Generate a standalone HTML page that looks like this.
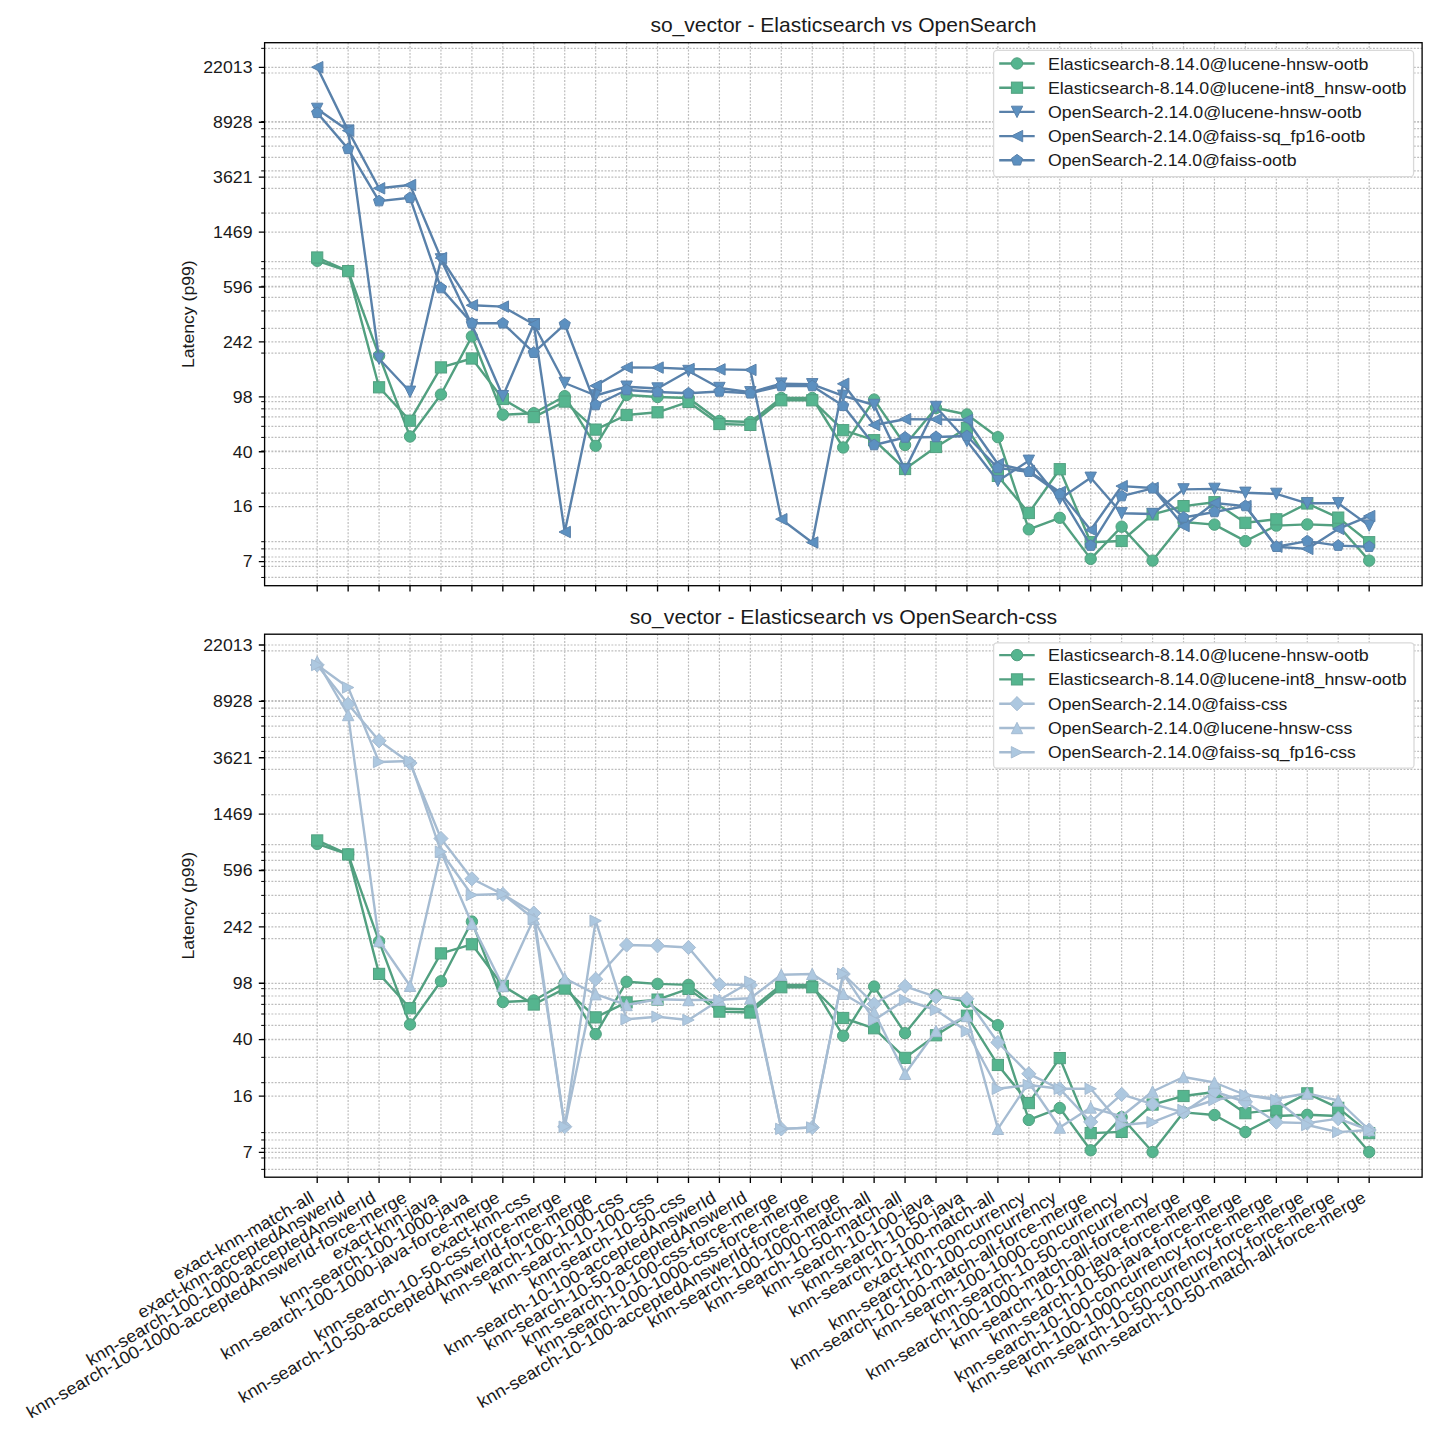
<!DOCTYPE html>
<html><head><meta charset="utf-8"><style>
html,body{margin:0;padding:0;background:#fff;overflow:hidden;width:1440px;height:1440px;}
svg{display:block;}
.t{font-family:"Liberation Sans",sans-serif;font-size:17.4px;fill:#1a1a1a;}
.ti{font-family:"Liberation Sans",sans-serif;font-size:20.8px;fill:#1a1a1a;}
</style></head><body>
<svg width="1440" height="1440" viewBox="0 0 1440 1440">
<rect width="1440" height="1440" fill="#fff"/>
<defs><clipPath id="clipT"><rect x="264.6" y="42.7" width="1157.5" height="543"/></clipPath><clipPath id="clipB"><rect x="264.6" y="634.2" width="1157.5" height="543"/></clipPath></defs>
<path d="M317.2 42.7V585.7M348.14 42.7V585.7M379.08 42.7V585.7M410.02 42.7V585.7M440.96 42.7V585.7M471.9 42.7V585.7M502.84 42.7V585.7M533.78 42.7V585.7M564.72 42.7V585.7M595.66 42.7V585.7M626.6 42.7V585.7M657.54 42.7V585.7M688.48 42.7V585.7M719.42 42.7V585.7M750.36 42.7V585.7M781.3 42.7V585.7M812.24 42.7V585.7M843.18 42.7V585.7M874.12 42.7V585.7M905.06 42.7V585.7M936 42.7V585.7M966.94 42.7V585.7M997.88 42.7V585.7M1028.82 42.7V585.7M1059.76 42.7V585.7M1090.7 42.7V585.7M1121.64 42.7V585.7M1152.58 42.7V585.7M1183.52 42.7V585.7M1214.46 42.7V585.7M1245.4 42.7V585.7M1276.34 42.7V585.7M1307.28 42.7V585.7M1338.22 42.7V585.7M1369.16 42.7V585.7" stroke="#bdbdbd" stroke-width="1.2" stroke-dasharray="1.9 1.5" fill="none"/>
<path d="M264.6 67.3H1422.1M264.6 122.22H1422.1M264.6 177.14H1422.1M264.6 232.06H1422.1M264.6 286.98H1422.1M264.6 341.9H1422.1M264.6 396.82H1422.1M264.6 451.74H1422.1M264.6 506.66H1422.1M264.6 561.58H1422.1M264.6 577.46H1422.1M264.6 566.37H1422.1M264.6 556.99H1422.1M264.6 548.87H1422.1M264.6 541.71H1422.1M264.6 493.14H1422.1M264.6 468.48H1422.1M264.6 450.98H1422.1M264.6 437.41H1422.1M264.6 426.32H1422.1M264.6 416.94H1422.1M264.6 408.82H1422.1M264.6 401.66H1422.1M264.6 353.09H1422.1M264.6 328.43H1422.1M264.6 310.93H1422.1M264.6 297.36H1422.1M264.6 286.27H1422.1M264.6 276.89H1422.1M264.6 268.77H1422.1M264.6 261.61H1422.1M264.6 213.04H1422.1M264.6 188.38H1422.1M264.6 170.88H1422.1M264.6 157.31H1422.1M264.6 146.22H1422.1M264.6 136.84H1422.1M264.6 128.72H1422.1M264.6 121.56H1422.1M264.6 72.99H1422.1M264.6 48.33H1422.1" stroke="#bdbdbd" stroke-width="1.2" stroke-dasharray="1.9 1.5" fill="none"/>
<path d="M258.8 67.3H264.6M258.8 122.22H264.6M258.8 177.14H264.6M258.8 232.06H264.6M258.8 286.98H264.6M258.8 341.9H264.6M258.8 396.82H264.6M258.8 451.74H264.6M258.8 506.66H264.6M258.8 561.58H264.6M317.2 585.7V591.5M348.14 585.7V591.5M379.08 585.7V591.5M410.02 585.7V591.5M440.96 585.7V591.5M471.9 585.7V591.5M502.84 585.7V591.5M533.78 585.7V591.5M564.72 585.7V591.5M595.66 585.7V591.5M626.6 585.7V591.5M657.54 585.7V591.5M688.48 585.7V591.5M719.42 585.7V591.5M750.36 585.7V591.5M781.3 585.7V591.5M812.24 585.7V591.5M843.18 585.7V591.5M874.12 585.7V591.5M905.06 585.7V591.5M936 585.7V591.5M966.94 585.7V591.5M997.88 585.7V591.5M1028.82 585.7V591.5M1059.76 585.7V591.5M1090.7 585.7V591.5M1121.64 585.7V591.5M1152.58 585.7V591.5M1183.52 585.7V591.5M1214.46 585.7V591.5M1245.4 585.7V591.5M1276.34 585.7V591.5M1307.28 585.7V591.5M1338.22 585.7V591.5M1369.16 585.7V591.5" stroke="#000" stroke-width="1.33" fill="none"/>
<path d="M261.2 577.46H264.6M261.2 566.37H264.6M261.2 556.99H264.6M261.2 548.87H264.6M261.2 541.71H264.6M261.2 493.14H264.6M261.2 468.48H264.6M261.2 450.98H264.6M261.2 437.41H264.6M261.2 426.32H264.6M261.2 416.94H264.6M261.2 408.82H264.6M261.2 401.66H264.6M261.2 353.09H264.6M261.2 328.43H264.6M261.2 310.93H264.6M261.2 297.36H264.6M261.2 286.27H264.6M261.2 276.89H264.6M261.2 268.77H264.6M261.2 261.61H264.6M261.2 213.04H264.6M261.2 188.38H264.6M261.2 170.88H264.6M261.2 157.31H264.6M261.2 146.22H264.6M261.2 136.84H264.6M261.2 128.72H264.6M261.2 121.56H264.6M261.2 72.99H264.6M261.2 48.33H264.6" stroke="#000" stroke-width="1" fill="none"/>
<text x="252.5" y="73.1" text-anchor="end" class="t" textLength="49.21" lengthAdjust="spacingAndGlyphs">22013</text>
<text x="252.5" y="128.02" text-anchor="end" class="t" textLength="39.37" lengthAdjust="spacingAndGlyphs">8928</text>
<text x="252.5" y="182.94" text-anchor="end" class="t" textLength="39.37" lengthAdjust="spacingAndGlyphs">3621</text>
<text x="252.5" y="237.86" text-anchor="end" class="t" textLength="39.37" lengthAdjust="spacingAndGlyphs">1469</text>
<text x="252.5" y="292.78" text-anchor="end" class="t" textLength="29.53" lengthAdjust="spacingAndGlyphs">596</text>
<text x="252.5" y="347.7" text-anchor="end" class="t" textLength="29.53" lengthAdjust="spacingAndGlyphs">242</text>
<text x="252.5" y="402.62" text-anchor="end" class="t" textLength="19.69" lengthAdjust="spacingAndGlyphs">98</text>
<text x="252.5" y="457.54" text-anchor="end" class="t" textLength="19.69" lengthAdjust="spacingAndGlyphs">40</text>
<text x="252.5" y="512.46" text-anchor="end" class="t" textLength="19.69" lengthAdjust="spacingAndGlyphs">16</text>
<text x="252.5" y="567.38" text-anchor="end" class="t" textLength="9.84" lengthAdjust="spacingAndGlyphs">7</text>
<text transform="translate(193.6 314.2) rotate(-90)" text-anchor="middle" class="t" textLength="107.5" lengthAdjust="spacingAndGlyphs">Latency (p99)</text>
<text x="843.4" y="32.1" text-anchor="middle" class="ti" textLength="386" lengthAdjust="spacingAndGlyphs">so_vector - Elasticsearch vs OpenSearch</text>
<g clip-path="url(#clipT)">
<polyline points="317.2,260.8 348.14,271 379.08,355.7 410.02,436.5 440.96,394.5 471.9,336.4 502.84,414.7 533.78,413.2 564.72,396.2 595.66,445.8 626.6,395 657.54,397 688.48,398 719.42,421 750.36,422 781.3,398 812.24,398 843.18,447.5 874.12,399.6 905.06,445 936,408 966.94,414.5 997.88,437.2 1028.82,529.4 1059.76,517.8 1090.7,558.9 1121.64,526.7 1152.58,560.6 1183.52,522 1214.46,524.6 1245.4,541.1 1276.34,525.6 1307.28,524.4 1338.22,525.5 1369.16,560.6" fill="none" stroke="#52a080" stroke-width="2.4" stroke-linejoin="round" stroke-linecap="butt"/>
<circle cx="317.2" cy="260.8" r="5.7" fill="#55b58f" stroke="#52a080" stroke-width="1"/>
<circle cx="348.14" cy="271" r="5.7" fill="#55b58f" stroke="#52a080" stroke-width="1"/>
<circle cx="379.08" cy="355.7" r="5.7" fill="#55b58f" stroke="#52a080" stroke-width="1"/>
<circle cx="410.02" cy="436.5" r="5.7" fill="#55b58f" stroke="#52a080" stroke-width="1"/>
<circle cx="440.96" cy="394.5" r="5.7" fill="#55b58f" stroke="#52a080" stroke-width="1"/>
<circle cx="471.9" cy="336.4" r="5.7" fill="#55b58f" stroke="#52a080" stroke-width="1"/>
<circle cx="502.84" cy="414.7" r="5.7" fill="#55b58f" stroke="#52a080" stroke-width="1"/>
<circle cx="533.78" cy="413.2" r="5.7" fill="#55b58f" stroke="#52a080" stroke-width="1"/>
<circle cx="564.72" cy="396.2" r="5.7" fill="#55b58f" stroke="#52a080" stroke-width="1"/>
<circle cx="595.66" cy="445.8" r="5.7" fill="#55b58f" stroke="#52a080" stroke-width="1"/>
<circle cx="626.6" cy="395" r="5.7" fill="#55b58f" stroke="#52a080" stroke-width="1"/>
<circle cx="657.54" cy="397" r="5.7" fill="#55b58f" stroke="#52a080" stroke-width="1"/>
<circle cx="688.48" cy="398" r="5.7" fill="#55b58f" stroke="#52a080" stroke-width="1"/>
<circle cx="719.42" cy="421" r="5.7" fill="#55b58f" stroke="#52a080" stroke-width="1"/>
<circle cx="750.36" cy="422" r="5.7" fill="#55b58f" stroke="#52a080" stroke-width="1"/>
<circle cx="781.3" cy="398" r="5.7" fill="#55b58f" stroke="#52a080" stroke-width="1"/>
<circle cx="812.24" cy="398" r="5.7" fill="#55b58f" stroke="#52a080" stroke-width="1"/>
<circle cx="843.18" cy="447.5" r="5.7" fill="#55b58f" stroke="#52a080" stroke-width="1"/>
<circle cx="874.12" cy="399.6" r="5.7" fill="#55b58f" stroke="#52a080" stroke-width="1"/>
<circle cx="905.06" cy="445" r="5.7" fill="#55b58f" stroke="#52a080" stroke-width="1"/>
<circle cx="936" cy="408" r="5.7" fill="#55b58f" stroke="#52a080" stroke-width="1"/>
<circle cx="966.94" cy="414.5" r="5.7" fill="#55b58f" stroke="#52a080" stroke-width="1"/>
<circle cx="997.88" cy="437.2" r="5.7" fill="#55b58f" stroke="#52a080" stroke-width="1"/>
<circle cx="1028.82" cy="529.4" r="5.7" fill="#55b58f" stroke="#52a080" stroke-width="1"/>
<circle cx="1059.76" cy="517.8" r="5.7" fill="#55b58f" stroke="#52a080" stroke-width="1"/>
<circle cx="1090.7" cy="558.9" r="5.7" fill="#55b58f" stroke="#52a080" stroke-width="1"/>
<circle cx="1121.64" cy="526.7" r="5.7" fill="#55b58f" stroke="#52a080" stroke-width="1"/>
<circle cx="1152.58" cy="560.6" r="5.7" fill="#55b58f" stroke="#52a080" stroke-width="1"/>
<circle cx="1183.52" cy="522" r="5.7" fill="#55b58f" stroke="#52a080" stroke-width="1"/>
<circle cx="1214.46" cy="524.6" r="5.7" fill="#55b58f" stroke="#52a080" stroke-width="1"/>
<circle cx="1245.4" cy="541.1" r="5.7" fill="#55b58f" stroke="#52a080" stroke-width="1"/>
<circle cx="1276.34" cy="525.6" r="5.7" fill="#55b58f" stroke="#52a080" stroke-width="1"/>
<circle cx="1307.28" cy="524.4" r="5.7" fill="#55b58f" stroke="#52a080" stroke-width="1"/>
<circle cx="1338.22" cy="525.5" r="5.7" fill="#55b58f" stroke="#52a080" stroke-width="1"/>
<circle cx="1369.16" cy="560.6" r="5.7" fill="#55b58f" stroke="#52a080" stroke-width="1"/>
<polyline points="317.2,257.5 348.14,271.1 379.08,387.3 410.02,420.7 440.96,367.4 471.9,358.5 502.84,399 533.78,417.1 564.72,401.6 595.66,429.6 626.6,415 657.54,412.3 688.48,401.9 719.42,424 750.36,424.9 781.3,400.3 812.24,400.3 843.18,430.2 874.12,440.2 905.06,469 936,447 966.94,428 997.88,475.9 1028.82,513 1059.76,469.2 1090.7,542.2 1121.64,541 1152.58,514.4 1183.52,506.1 1214.46,502.2 1245.4,522.8 1276.34,519.3 1307.28,503.5 1338.22,517.6 1369.16,542.2" fill="none" stroke="#52a080" stroke-width="2.4" stroke-linejoin="round" stroke-linecap="butt"/>
<rect x="311.6" y="251.9" width="11.2" height="11.2" fill="#55b58f" stroke="#52a080" stroke-width="1"/>
<rect x="342.54" y="265.5" width="11.2" height="11.2" fill="#55b58f" stroke="#52a080" stroke-width="1"/>
<rect x="373.48" y="381.7" width="11.2" height="11.2" fill="#55b58f" stroke="#52a080" stroke-width="1"/>
<rect x="404.42" y="415.1" width="11.2" height="11.2" fill="#55b58f" stroke="#52a080" stroke-width="1"/>
<rect x="435.36" y="361.8" width="11.2" height="11.2" fill="#55b58f" stroke="#52a080" stroke-width="1"/>
<rect x="466.3" y="352.9" width="11.2" height="11.2" fill="#55b58f" stroke="#52a080" stroke-width="1"/>
<rect x="497.24" y="393.4" width="11.2" height="11.2" fill="#55b58f" stroke="#52a080" stroke-width="1"/>
<rect x="528.18" y="411.5" width="11.2" height="11.2" fill="#55b58f" stroke="#52a080" stroke-width="1"/>
<rect x="559.12" y="396" width="11.2" height="11.2" fill="#55b58f" stroke="#52a080" stroke-width="1"/>
<rect x="590.06" y="424" width="11.2" height="11.2" fill="#55b58f" stroke="#52a080" stroke-width="1"/>
<rect x="621" y="409.4" width="11.2" height="11.2" fill="#55b58f" stroke="#52a080" stroke-width="1"/>
<rect x="651.94" y="406.7" width="11.2" height="11.2" fill="#55b58f" stroke="#52a080" stroke-width="1"/>
<rect x="682.88" y="396.3" width="11.2" height="11.2" fill="#55b58f" stroke="#52a080" stroke-width="1"/>
<rect x="713.82" y="418.4" width="11.2" height="11.2" fill="#55b58f" stroke="#52a080" stroke-width="1"/>
<rect x="744.76" y="419.3" width="11.2" height="11.2" fill="#55b58f" stroke="#52a080" stroke-width="1"/>
<rect x="775.7" y="394.7" width="11.2" height="11.2" fill="#55b58f" stroke="#52a080" stroke-width="1"/>
<rect x="806.64" y="394.7" width="11.2" height="11.2" fill="#55b58f" stroke="#52a080" stroke-width="1"/>
<rect x="837.58" y="424.6" width="11.2" height="11.2" fill="#55b58f" stroke="#52a080" stroke-width="1"/>
<rect x="868.52" y="434.6" width="11.2" height="11.2" fill="#55b58f" stroke="#52a080" stroke-width="1"/>
<rect x="899.46" y="463.4" width="11.2" height="11.2" fill="#55b58f" stroke="#52a080" stroke-width="1"/>
<rect x="930.4" y="441.4" width="11.2" height="11.2" fill="#55b58f" stroke="#52a080" stroke-width="1"/>
<rect x="961.34" y="422.4" width="11.2" height="11.2" fill="#55b58f" stroke="#52a080" stroke-width="1"/>
<rect x="992.28" y="470.3" width="11.2" height="11.2" fill="#55b58f" stroke="#52a080" stroke-width="1"/>
<rect x="1023.22" y="507.4" width="11.2" height="11.2" fill="#55b58f" stroke="#52a080" stroke-width="1"/>
<rect x="1054.16" y="463.6" width="11.2" height="11.2" fill="#55b58f" stroke="#52a080" stroke-width="1"/>
<rect x="1085.1" y="536.6" width="11.2" height="11.2" fill="#55b58f" stroke="#52a080" stroke-width="1"/>
<rect x="1116.04" y="535.4" width="11.2" height="11.2" fill="#55b58f" stroke="#52a080" stroke-width="1"/>
<rect x="1146.98" y="508.8" width="11.2" height="11.2" fill="#55b58f" stroke="#52a080" stroke-width="1"/>
<rect x="1177.92" y="500.5" width="11.2" height="11.2" fill="#55b58f" stroke="#52a080" stroke-width="1"/>
<rect x="1208.86" y="496.6" width="11.2" height="11.2" fill="#55b58f" stroke="#52a080" stroke-width="1"/>
<rect x="1239.8" y="517.2" width="11.2" height="11.2" fill="#55b58f" stroke="#52a080" stroke-width="1"/>
<rect x="1270.74" y="513.7" width="11.2" height="11.2" fill="#55b58f" stroke="#52a080" stroke-width="1"/>
<rect x="1301.68" y="497.9" width="11.2" height="11.2" fill="#55b58f" stroke="#52a080" stroke-width="1"/>
<rect x="1332.62" y="512" width="11.2" height="11.2" fill="#55b58f" stroke="#52a080" stroke-width="1"/>
<rect x="1363.56" y="536.6" width="11.2" height="11.2" fill="#55b58f" stroke="#52a080" stroke-width="1"/>
<polyline points="317.2,108.9 348.14,130.6 379.08,358.8 410.02,391.8 440.96,259.4 471.9,325 502.84,396.2 533.78,324.2 564.72,383 595.66,395.5 626.6,386.7 657.54,388.5 688.48,371 719.42,388 750.36,392.3 781.3,383.6 812.24,384.3 843.18,395.8 874.12,405 905.06,469.6 936,407 966.94,441 997.88,481 1028.82,460.8 1059.76,499 1090.7,477.8 1121.64,513.3 1152.58,514 1183.52,489.4 1214.46,488.9 1245.4,492.8 1276.34,493.9 1307.28,503.3 1338.22,503.3 1369.16,525.6" fill="none" stroke="#5981aa" stroke-width="2.4" stroke-linejoin="round" stroke-linecap="butt"/>
<polygon points="311.5,103.2 322.9,103.2 317.2,114.6" fill="#5c90c0" stroke="#5981aa" stroke-width="1"/>
<polygon points="342.44,124.9 353.84,124.9 348.14,136.3" fill="#5c90c0" stroke="#5981aa" stroke-width="1"/>
<polygon points="373.38,353.1 384.78,353.1 379.08,364.5" fill="#5c90c0" stroke="#5981aa" stroke-width="1"/>
<polygon points="404.32,386.1 415.72,386.1 410.02,397.5" fill="#5c90c0" stroke="#5981aa" stroke-width="1"/>
<polygon points="435.26,253.7 446.66,253.7 440.96,265.1" fill="#5c90c0" stroke="#5981aa" stroke-width="1"/>
<polygon points="466.2,319.3 477.6,319.3 471.9,330.7" fill="#5c90c0" stroke="#5981aa" stroke-width="1"/>
<polygon points="497.14,390.5 508.54,390.5 502.84,401.9" fill="#5c90c0" stroke="#5981aa" stroke-width="1"/>
<polygon points="528.08,318.5 539.48,318.5 533.78,329.9" fill="#5c90c0" stroke="#5981aa" stroke-width="1"/>
<polygon points="559.02,377.3 570.42,377.3 564.72,388.7" fill="#5c90c0" stroke="#5981aa" stroke-width="1"/>
<polygon points="589.96,389.8 601.36,389.8 595.66,401.2" fill="#5c90c0" stroke="#5981aa" stroke-width="1"/>
<polygon points="620.9,381 632.3,381 626.6,392.4" fill="#5c90c0" stroke="#5981aa" stroke-width="1"/>
<polygon points="651.84,382.8 663.24,382.8 657.54,394.2" fill="#5c90c0" stroke="#5981aa" stroke-width="1"/>
<polygon points="682.78,365.3 694.18,365.3 688.48,376.7" fill="#5c90c0" stroke="#5981aa" stroke-width="1"/>
<polygon points="713.72,382.3 725.12,382.3 719.42,393.7" fill="#5c90c0" stroke="#5981aa" stroke-width="1"/>
<polygon points="744.66,386.6 756.06,386.6 750.36,398" fill="#5c90c0" stroke="#5981aa" stroke-width="1"/>
<polygon points="775.6,377.9 787,377.9 781.3,389.3" fill="#5c90c0" stroke="#5981aa" stroke-width="1"/>
<polygon points="806.54,378.6 817.94,378.6 812.24,390" fill="#5c90c0" stroke="#5981aa" stroke-width="1"/>
<polygon points="837.48,390.1 848.88,390.1 843.18,401.5" fill="#5c90c0" stroke="#5981aa" stroke-width="1"/>
<polygon points="868.42,399.3 879.82,399.3 874.12,410.7" fill="#5c90c0" stroke="#5981aa" stroke-width="1"/>
<polygon points="899.36,463.9 910.76,463.9 905.06,475.3" fill="#5c90c0" stroke="#5981aa" stroke-width="1"/>
<polygon points="930.3,401.3 941.7,401.3 936,412.7" fill="#5c90c0" stroke="#5981aa" stroke-width="1"/>
<polygon points="961.24,435.3 972.64,435.3 966.94,446.7" fill="#5c90c0" stroke="#5981aa" stroke-width="1"/>
<polygon points="992.18,475.3 1003.58,475.3 997.88,486.7" fill="#5c90c0" stroke="#5981aa" stroke-width="1"/>
<polygon points="1023.12,455.1 1034.52,455.1 1028.82,466.5" fill="#5c90c0" stroke="#5981aa" stroke-width="1"/>
<polygon points="1054.06,493.3 1065.46,493.3 1059.76,504.7" fill="#5c90c0" stroke="#5981aa" stroke-width="1"/>
<polygon points="1085,472.1 1096.4,472.1 1090.7,483.5" fill="#5c90c0" stroke="#5981aa" stroke-width="1"/>
<polygon points="1115.94,507.6 1127.34,507.6 1121.64,519" fill="#5c90c0" stroke="#5981aa" stroke-width="1"/>
<polygon points="1146.88,508.3 1158.28,508.3 1152.58,519.7" fill="#5c90c0" stroke="#5981aa" stroke-width="1"/>
<polygon points="1177.82,483.7 1189.22,483.7 1183.52,495.1" fill="#5c90c0" stroke="#5981aa" stroke-width="1"/>
<polygon points="1208.76,483.2 1220.16,483.2 1214.46,494.6" fill="#5c90c0" stroke="#5981aa" stroke-width="1"/>
<polygon points="1239.7,487.1 1251.1,487.1 1245.4,498.5" fill="#5c90c0" stroke="#5981aa" stroke-width="1"/>
<polygon points="1270.64,488.2 1282.04,488.2 1276.34,499.6" fill="#5c90c0" stroke="#5981aa" stroke-width="1"/>
<polygon points="1301.58,497.6 1312.98,497.6 1307.28,509" fill="#5c90c0" stroke="#5981aa" stroke-width="1"/>
<polygon points="1332.52,497.6 1343.92,497.6 1338.22,509" fill="#5c90c0" stroke="#5981aa" stroke-width="1"/>
<polygon points="1363.46,519.9 1374.86,519.9 1369.16,531.3" fill="#5c90c0" stroke="#5981aa" stroke-width="1"/>
<polyline points="317.2,67.2 348.14,130.6 379.08,188.3 410.02,185 440.96,258 471.9,305.3 502.84,306.6 533.78,324.2 564.72,532 595.66,385.8 626.6,367.5 657.54,367.6 688.48,369 719.42,369.4 750.36,369.9 781.3,519.2 812.24,542.5 843.18,383.8 874.12,425 905.06,419.2 936,419.4 966.94,420 997.88,464 1028.82,471 1059.76,492 1090.7,530 1121.64,486.1 1152.58,488 1183.52,526 1214.46,503 1245.4,506.1 1276.34,546.7 1307.28,548.9 1338.22,528.9 1369.16,516.1" fill="none" stroke="#5981aa" stroke-width="2.4" stroke-linejoin="round" stroke-linecap="butt"/>
<polygon points="322.9,61.5 322.9,72.9 311.5,67.2" fill="#5c90c0" stroke="#5981aa" stroke-width="1"/>
<polygon points="353.84,124.9 353.84,136.3 342.44,130.6" fill="#5c90c0" stroke="#5981aa" stroke-width="1"/>
<polygon points="384.78,182.6 384.78,194 373.38,188.3" fill="#5c90c0" stroke="#5981aa" stroke-width="1"/>
<polygon points="415.72,179.3 415.72,190.7 404.32,185" fill="#5c90c0" stroke="#5981aa" stroke-width="1"/>
<polygon points="446.66,252.3 446.66,263.7 435.26,258" fill="#5c90c0" stroke="#5981aa" stroke-width="1"/>
<polygon points="477.6,299.6 477.6,311 466.2,305.3" fill="#5c90c0" stroke="#5981aa" stroke-width="1"/>
<polygon points="508.54,300.9 508.54,312.3 497.14,306.6" fill="#5c90c0" stroke="#5981aa" stroke-width="1"/>
<polygon points="539.48,318.5 539.48,329.9 528.08,324.2" fill="#5c90c0" stroke="#5981aa" stroke-width="1"/>
<polygon points="570.42,526.3 570.42,537.7 559.02,532" fill="#5c90c0" stroke="#5981aa" stroke-width="1"/>
<polygon points="601.36,380.1 601.36,391.5 589.96,385.8" fill="#5c90c0" stroke="#5981aa" stroke-width="1"/>
<polygon points="632.3,361.8 632.3,373.2 620.9,367.5" fill="#5c90c0" stroke="#5981aa" stroke-width="1"/>
<polygon points="663.24,361.9 663.24,373.3 651.84,367.6" fill="#5c90c0" stroke="#5981aa" stroke-width="1"/>
<polygon points="694.18,363.3 694.18,374.7 682.78,369" fill="#5c90c0" stroke="#5981aa" stroke-width="1"/>
<polygon points="725.12,363.7 725.12,375.1 713.72,369.4" fill="#5c90c0" stroke="#5981aa" stroke-width="1"/>
<polygon points="756.06,364.2 756.06,375.6 744.66,369.9" fill="#5c90c0" stroke="#5981aa" stroke-width="1"/>
<polygon points="787,513.5 787,524.9 775.6,519.2" fill="#5c90c0" stroke="#5981aa" stroke-width="1"/>
<polygon points="817.94,536.8 817.94,548.2 806.54,542.5" fill="#5c90c0" stroke="#5981aa" stroke-width="1"/>
<polygon points="848.88,378.1 848.88,389.5 837.48,383.8" fill="#5c90c0" stroke="#5981aa" stroke-width="1"/>
<polygon points="879.82,419.3 879.82,430.7 868.42,425" fill="#5c90c0" stroke="#5981aa" stroke-width="1"/>
<polygon points="910.76,413.5 910.76,424.9 899.36,419.2" fill="#5c90c0" stroke="#5981aa" stroke-width="1"/>
<polygon points="941.7,413.7 941.7,425.1 930.3,419.4" fill="#5c90c0" stroke="#5981aa" stroke-width="1"/>
<polygon points="972.64,414.3 972.64,425.7 961.24,420" fill="#5c90c0" stroke="#5981aa" stroke-width="1"/>
<polygon points="1003.58,458.3 1003.58,469.7 992.18,464" fill="#5c90c0" stroke="#5981aa" stroke-width="1"/>
<polygon points="1034.52,465.3 1034.52,476.7 1023.12,471" fill="#5c90c0" stroke="#5981aa" stroke-width="1"/>
<polygon points="1065.46,486.3 1065.46,497.7 1054.06,492" fill="#5c90c0" stroke="#5981aa" stroke-width="1"/>
<polygon points="1096.4,524.3 1096.4,535.7 1085,530" fill="#5c90c0" stroke="#5981aa" stroke-width="1"/>
<polygon points="1127.34,480.4 1127.34,491.8 1115.94,486.1" fill="#5c90c0" stroke="#5981aa" stroke-width="1"/>
<polygon points="1158.28,482.3 1158.28,493.7 1146.88,488" fill="#5c90c0" stroke="#5981aa" stroke-width="1"/>
<polygon points="1189.22,520.3 1189.22,531.7 1177.82,526" fill="#5c90c0" stroke="#5981aa" stroke-width="1"/>
<polygon points="1220.16,497.3 1220.16,508.7 1208.76,503" fill="#5c90c0" stroke="#5981aa" stroke-width="1"/>
<polygon points="1251.1,500.4 1251.1,511.8 1239.7,506.1" fill="#5c90c0" stroke="#5981aa" stroke-width="1"/>
<polygon points="1282.04,541 1282.04,552.4 1270.64,546.7" fill="#5c90c0" stroke="#5981aa" stroke-width="1"/>
<polygon points="1312.98,543.2 1312.98,554.6 1301.58,548.9" fill="#5c90c0" stroke="#5981aa" stroke-width="1"/>
<polygon points="1343.92,523.2 1343.92,534.6 1332.52,528.9" fill="#5c90c0" stroke="#5981aa" stroke-width="1"/>
<polygon points="1374.86,510.4 1374.86,521.8 1363.46,516.1" fill="#5c90c0" stroke="#5981aa" stroke-width="1"/>
<polyline points="317.2,112.8 348.14,148.9 379.08,201.1 410.02,197.8 440.96,288.1 471.9,323.3 502.84,323.3 533.78,352.7 564.72,324.3 595.66,405 626.6,390 657.54,392 688.48,393.3 719.42,391.5 750.36,393.3 781.3,386 812.24,386 843.18,405.8 874.12,445 905.06,437.5 936,437 966.94,436 997.88,468 1028.82,471.7 1059.76,494 1090.7,545.6 1121.64,496.1 1152.58,488.3 1183.52,517.5 1214.46,512 1245.4,506 1276.34,546.7 1307.28,541.1 1338.22,545.6 1369.16,546.7" fill="none" stroke="#5981aa" stroke-width="2.4" stroke-linejoin="round" stroke-linecap="butt"/>
<polygon points="317.2,106.9 322.81,110.98 320.67,117.57 313.73,117.57 311.59,110.98" fill="#5c90c0" stroke="#5981aa" stroke-width="1"/>
<polygon points="348.14,143 353.75,147.08 351.61,153.67 344.67,153.67 342.53,147.08" fill="#5c90c0" stroke="#5981aa" stroke-width="1"/>
<polygon points="379.08,195.2 384.69,199.28 382.55,205.87 375.61,205.87 373.47,199.28" fill="#5c90c0" stroke="#5981aa" stroke-width="1"/>
<polygon points="410.02,191.9 415.63,195.98 413.49,202.57 406.55,202.57 404.41,195.98" fill="#5c90c0" stroke="#5981aa" stroke-width="1"/>
<polygon points="440.96,282.2 446.57,286.28 444.43,292.87 437.49,292.87 435.35,286.28" fill="#5c90c0" stroke="#5981aa" stroke-width="1"/>
<polygon points="471.9,317.4 477.51,321.48 475.37,328.07 468.43,328.07 466.29,321.48" fill="#5c90c0" stroke="#5981aa" stroke-width="1"/>
<polygon points="502.84,317.4 508.45,321.48 506.31,328.07 499.37,328.07 497.23,321.48" fill="#5c90c0" stroke="#5981aa" stroke-width="1"/>
<polygon points="533.78,346.8 539.39,350.88 537.25,357.47 530.31,357.47 528.17,350.88" fill="#5c90c0" stroke="#5981aa" stroke-width="1"/>
<polygon points="564.72,318.4 570.33,322.48 568.19,329.07 561.25,329.07 559.11,322.48" fill="#5c90c0" stroke="#5981aa" stroke-width="1"/>
<polygon points="595.66,399.1 601.27,403.18 599.13,409.77 592.19,409.77 590.05,403.18" fill="#5c90c0" stroke="#5981aa" stroke-width="1"/>
<polygon points="626.6,384.1 632.21,388.18 630.07,394.77 623.13,394.77 620.99,388.18" fill="#5c90c0" stroke="#5981aa" stroke-width="1"/>
<polygon points="657.54,386.1 663.15,390.18 661.01,396.77 654.07,396.77 651.93,390.18" fill="#5c90c0" stroke="#5981aa" stroke-width="1"/>
<polygon points="688.48,387.4 694.09,391.48 691.95,398.07 685.01,398.07 682.87,391.48" fill="#5c90c0" stroke="#5981aa" stroke-width="1"/>
<polygon points="719.42,385.6 725.03,389.68 722.89,396.27 715.95,396.27 713.81,389.68" fill="#5c90c0" stroke="#5981aa" stroke-width="1"/>
<polygon points="750.36,387.4 755.97,391.48 753.83,398.07 746.89,398.07 744.75,391.48" fill="#5c90c0" stroke="#5981aa" stroke-width="1"/>
<polygon points="781.3,380.1 786.91,384.18 784.77,390.77 777.83,390.77 775.69,384.18" fill="#5c90c0" stroke="#5981aa" stroke-width="1"/>
<polygon points="812.24,380.1 817.85,384.18 815.71,390.77 808.77,390.77 806.63,384.18" fill="#5c90c0" stroke="#5981aa" stroke-width="1"/>
<polygon points="843.18,399.9 848.79,403.98 846.65,410.57 839.71,410.57 837.57,403.98" fill="#5c90c0" stroke="#5981aa" stroke-width="1"/>
<polygon points="874.12,439.1 879.73,443.18 877.59,449.77 870.65,449.77 868.51,443.18" fill="#5c90c0" stroke="#5981aa" stroke-width="1"/>
<polygon points="905.06,431.6 910.67,435.68 908.53,442.27 901.59,442.27 899.45,435.68" fill="#5c90c0" stroke="#5981aa" stroke-width="1"/>
<polygon points="936,431.1 941.61,435.18 939.47,441.77 932.53,441.77 930.39,435.18" fill="#5c90c0" stroke="#5981aa" stroke-width="1"/>
<polygon points="966.94,430.1 972.55,434.18 970.41,440.77 963.47,440.77 961.33,434.18" fill="#5c90c0" stroke="#5981aa" stroke-width="1"/>
<polygon points="997.88,462.1 1003.49,466.18 1001.35,472.77 994.41,472.77 992.27,466.18" fill="#5c90c0" stroke="#5981aa" stroke-width="1"/>
<polygon points="1028.82,465.8 1034.43,469.88 1032.29,476.47 1025.35,476.47 1023.21,469.88" fill="#5c90c0" stroke="#5981aa" stroke-width="1"/>
<polygon points="1059.76,488.1 1065.37,492.18 1063.23,498.77 1056.29,498.77 1054.15,492.18" fill="#5c90c0" stroke="#5981aa" stroke-width="1"/>
<polygon points="1090.7,539.7 1096.31,543.78 1094.17,550.37 1087.23,550.37 1085.09,543.78" fill="#5c90c0" stroke="#5981aa" stroke-width="1"/>
<polygon points="1121.64,490.2 1127.25,494.28 1125.11,500.87 1118.17,500.87 1116.03,494.28" fill="#5c90c0" stroke="#5981aa" stroke-width="1"/>
<polygon points="1152.58,482.4 1158.19,486.48 1156.05,493.07 1149.11,493.07 1146.97,486.48" fill="#5c90c0" stroke="#5981aa" stroke-width="1"/>
<polygon points="1183.52,511.6 1189.13,515.68 1186.99,522.27 1180.05,522.27 1177.91,515.68" fill="#5c90c0" stroke="#5981aa" stroke-width="1"/>
<polygon points="1214.46,506.1 1220.07,510.18 1217.93,516.77 1210.99,516.77 1208.85,510.18" fill="#5c90c0" stroke="#5981aa" stroke-width="1"/>
<polygon points="1245.4,500.1 1251.01,504.18 1248.87,510.77 1241.93,510.77 1239.79,504.18" fill="#5c90c0" stroke="#5981aa" stroke-width="1"/>
<polygon points="1276.34,540.8 1281.95,544.88 1279.81,551.47 1272.87,551.47 1270.73,544.88" fill="#5c90c0" stroke="#5981aa" stroke-width="1"/>
<polygon points="1307.28,535.2 1312.89,539.28 1310.75,545.87 1303.81,545.87 1301.67,539.28" fill="#5c90c0" stroke="#5981aa" stroke-width="1"/>
<polygon points="1338.22,539.7 1343.83,543.78 1341.69,550.37 1334.75,550.37 1332.61,543.78" fill="#5c90c0" stroke="#5981aa" stroke-width="1"/>
<polygon points="1369.16,540.8 1374.77,544.88 1372.63,551.47 1365.69,551.47 1363.55,544.88" fill="#5c90c0" stroke="#5981aa" stroke-width="1"/>
</g>
<rect x="264.6" y="42.7" width="1157.5" height="543" fill="none" stroke="#000" stroke-width="1.33"/>
<rect x="993.6" y="50.4" width="420" height="126.3" rx="3.5" fill="#fff" stroke="#d9d9d9" stroke-width="1.3"/>
<path d="M999.2 63.5H1034.7" stroke="#52a080" stroke-width="2.4"/>
<circle cx="1017" cy="63.5" r="5.7" fill="#55b58f" stroke="#52a080" stroke-width="1"/>
<text x="1048" y="69.5" class="t" textLength="320.5" lengthAdjust="spacingAndGlyphs">Elasticsearch-8.14.0@lucene-hnsw-ootb</text>
<path d="M999.2 87.7H1034.7" stroke="#52a080" stroke-width="2.4"/>
<rect x="1011.4" y="82.1" width="11.2" height="11.2" fill="#55b58f" stroke="#52a080" stroke-width="1"/>
<text x="1048" y="93.7" class="t" textLength="358.4" lengthAdjust="spacingAndGlyphs">Elasticsearch-8.14.0@lucene-int8_hnsw-ootb</text>
<path d="M999.2 111.9H1034.7" stroke="#5981aa" stroke-width="2.4"/>
<polygon points="1011.3,106.2 1022.7,106.2 1017,117.6" fill="#5c90c0" stroke="#5981aa" stroke-width="1"/>
<text x="1048" y="117.9" class="t" textLength="313.6" lengthAdjust="spacingAndGlyphs">OpenSearch-2.14.0@lucene-hnsw-ootb</text>
<path d="M999.2 136.1H1034.7" stroke="#5981aa" stroke-width="2.4"/>
<polygon points="1022.7,130.4 1022.7,141.8 1011.3,136.1" fill="#5c90c0" stroke="#5981aa" stroke-width="1"/>
<text x="1048" y="142.1" class="t" textLength="317.2" lengthAdjust="spacingAndGlyphs">OpenSearch-2.14.0@faiss-sq_fp16-ootb</text>
<path d="M999.2 160.3H1034.7" stroke="#5981aa" stroke-width="2.4"/>
<polygon points="1017,154.4 1022.61,158.48 1020.47,165.07 1013.53,165.07 1011.39,158.48" fill="#5c90c0" stroke="#5981aa" stroke-width="1"/>
<text x="1048" y="166.3" class="t" textLength="248.6" lengthAdjust="spacingAndGlyphs">OpenSearch-2.14.0@faiss-ootb</text>
<path d="M317.2 634.2V1177.2M348.14 634.2V1177.2M379.08 634.2V1177.2M410.02 634.2V1177.2M440.96 634.2V1177.2M471.9 634.2V1177.2M502.84 634.2V1177.2M533.78 634.2V1177.2M564.72 634.2V1177.2M595.66 634.2V1177.2M626.6 634.2V1177.2M657.54 634.2V1177.2M688.48 634.2V1177.2M719.42 634.2V1177.2M750.36 634.2V1177.2M781.3 634.2V1177.2M812.24 634.2V1177.2M843.18 634.2V1177.2M874.12 634.2V1177.2M905.06 634.2V1177.2M936 634.2V1177.2M966.94 634.2V1177.2M997.88 634.2V1177.2M1028.82 634.2V1177.2M1059.76 634.2V1177.2M1090.7 634.2V1177.2M1121.64 634.2V1177.2M1152.58 634.2V1177.2M1183.52 634.2V1177.2M1214.46 634.2V1177.2M1245.4 634.2V1177.2M1276.34 634.2V1177.2M1307.28 634.2V1177.2M1338.22 634.2V1177.2M1369.16 634.2V1177.2" stroke="#bdbdbd" stroke-width="1.2" stroke-dasharray="1.9 1.5" fill="none"/>
<path d="M264.6 645H1422.1M264.6 701.38H1422.1M264.6 757.76H1422.1M264.6 814.14H1422.1M264.6 870.52H1422.1M264.6 926.9H1422.1M264.6 983.28H1422.1M264.6 1039.66H1422.1M264.6 1096.04H1422.1M264.6 1152.42H1422.1M264.6 1169.37H1422.1M264.6 1157.97H1422.1M264.6 1148.33H1422.1M264.6 1139.98H1422.1M264.6 1132.62H1422.1M264.6 1082.69H1422.1M264.6 1057.34H1422.1M264.6 1039.35H1422.1M264.6 1025.4H1422.1M264.6 1014H1422.1M264.6 1004.36H1422.1M264.6 996.01H1422.1M264.6 988.65H1422.1M264.6 938.72H1422.1M264.6 913.37H1422.1M264.6 895.38H1422.1M264.6 881.43H1422.1M264.6 870.03H1422.1M264.6 860.39H1422.1M264.6 852.04H1422.1M264.6 844.68H1422.1M264.6 794.75H1422.1M264.6 769.4H1422.1M264.6 751.41H1422.1M264.6 737.46H1422.1M264.6 726.06H1422.1M264.6 716.42H1422.1M264.6 708.07H1422.1M264.6 700.71H1422.1M264.6 650.78H1422.1" stroke="#bdbdbd" stroke-width="1.2" stroke-dasharray="1.9 1.5" fill="none"/>
<path d="M258.8 645H264.6M258.8 701.38H264.6M258.8 757.76H264.6M258.8 814.14H264.6M258.8 870.52H264.6M258.8 926.9H264.6M258.8 983.28H264.6M258.8 1039.66H264.6M258.8 1096.04H264.6M258.8 1152.42H264.6M317.2 1177.2V1183M348.14 1177.2V1183M379.08 1177.2V1183M410.02 1177.2V1183M440.96 1177.2V1183M471.9 1177.2V1183M502.84 1177.2V1183M533.78 1177.2V1183M564.72 1177.2V1183M595.66 1177.2V1183M626.6 1177.2V1183M657.54 1177.2V1183M688.48 1177.2V1183M719.42 1177.2V1183M750.36 1177.2V1183M781.3 1177.2V1183M812.24 1177.2V1183M843.18 1177.2V1183M874.12 1177.2V1183M905.06 1177.2V1183M936 1177.2V1183M966.94 1177.2V1183M997.88 1177.2V1183M1028.82 1177.2V1183M1059.76 1177.2V1183M1090.7 1177.2V1183M1121.64 1177.2V1183M1152.58 1177.2V1183M1183.52 1177.2V1183M1214.46 1177.2V1183M1245.4 1177.2V1183M1276.34 1177.2V1183M1307.28 1177.2V1183M1338.22 1177.2V1183M1369.16 1177.2V1183" stroke="#000" stroke-width="1.33" fill="none"/>
<path d="M261.2 1169.37H264.6M261.2 1157.97H264.6M261.2 1148.33H264.6M261.2 1139.98H264.6M261.2 1132.62H264.6M261.2 1082.69H264.6M261.2 1057.34H264.6M261.2 1039.35H264.6M261.2 1025.4H264.6M261.2 1014H264.6M261.2 1004.36H264.6M261.2 996.01H264.6M261.2 988.65H264.6M261.2 938.72H264.6M261.2 913.37H264.6M261.2 895.38H264.6M261.2 881.43H264.6M261.2 870.03H264.6M261.2 860.39H264.6M261.2 852.04H264.6M261.2 844.68H264.6M261.2 794.75H264.6M261.2 769.4H264.6M261.2 751.41H264.6M261.2 737.46H264.6M261.2 726.06H264.6M261.2 716.42H264.6M261.2 708.07H264.6M261.2 700.71H264.6M261.2 650.78H264.6" stroke="#000" stroke-width="1" fill="none"/>
<text x="252.5" y="650.8" text-anchor="end" class="t" textLength="49.21" lengthAdjust="spacingAndGlyphs">22013</text>
<text x="252.5" y="707.18" text-anchor="end" class="t" textLength="39.37" lengthAdjust="spacingAndGlyphs">8928</text>
<text x="252.5" y="763.56" text-anchor="end" class="t" textLength="39.37" lengthAdjust="spacingAndGlyphs">3621</text>
<text x="252.5" y="819.94" text-anchor="end" class="t" textLength="39.37" lengthAdjust="spacingAndGlyphs">1469</text>
<text x="252.5" y="876.32" text-anchor="end" class="t" textLength="29.53" lengthAdjust="spacingAndGlyphs">596</text>
<text x="252.5" y="932.7" text-anchor="end" class="t" textLength="29.53" lengthAdjust="spacingAndGlyphs">242</text>
<text x="252.5" y="989.08" text-anchor="end" class="t" textLength="19.69" lengthAdjust="spacingAndGlyphs">98</text>
<text x="252.5" y="1045.46" text-anchor="end" class="t" textLength="19.69" lengthAdjust="spacingAndGlyphs">40</text>
<text x="252.5" y="1101.84" text-anchor="end" class="t" textLength="19.69" lengthAdjust="spacingAndGlyphs">16</text>
<text x="252.5" y="1158.22" text-anchor="end" class="t" textLength="9.84" lengthAdjust="spacingAndGlyphs">7</text>
<text transform="translate(193.6 905.7) rotate(-90)" text-anchor="middle" class="t" textLength="107.5" lengthAdjust="spacingAndGlyphs">Latency (p99)</text>
<text x="843.4" y="624.4" text-anchor="middle" class="ti" textLength="427.5" lengthAdjust="spacingAndGlyphs">so_vector - Elasticsearch vs OpenSearch-css</text>
<g clip-path="url(#clipB)">
<polyline points="317.2,843.85 348.14,854.33 379.08,941.4 410.02,1024.46 440.96,981.29 471.9,921.56 502.84,1002.05 533.78,1000.51 564.72,983.04 595.66,1034.02 626.6,981.8 657.54,983.86 688.48,984.89 719.42,1008.53 750.36,1009.56 781.3,984.89 812.24,984.89 843.18,1035.77 874.12,986.53 905.06,1033.2 936,995.17 966.94,1001.85 997.88,1025.18 1028.82,1119.96 1059.76,1108.04 1090.7,1150.29 1121.64,1117.19 1152.58,1152.04 1183.52,1112.36 1214.46,1115.03 1245.4,1131.99 1276.34,1116.06 1307.28,1114.82 1338.22,1115.96 1369.16,1152.04" fill="none" stroke="#52a080" stroke-width="2.4" stroke-linejoin="round" stroke-linecap="butt"/>
<circle cx="317.2" cy="843.85" r="5.7" fill="#55b58f" stroke="#52a080" stroke-width="1"/>
<circle cx="348.14" cy="854.33" r="5.7" fill="#55b58f" stroke="#52a080" stroke-width="1"/>
<circle cx="379.08" cy="941.4" r="5.7" fill="#55b58f" stroke="#52a080" stroke-width="1"/>
<circle cx="410.02" cy="1024.46" r="5.7" fill="#55b58f" stroke="#52a080" stroke-width="1"/>
<circle cx="440.96" cy="981.29" r="5.7" fill="#55b58f" stroke="#52a080" stroke-width="1"/>
<circle cx="471.9" cy="921.56" r="5.7" fill="#55b58f" stroke="#52a080" stroke-width="1"/>
<circle cx="502.84" cy="1002.05" r="5.7" fill="#55b58f" stroke="#52a080" stroke-width="1"/>
<circle cx="533.78" cy="1000.51" r="5.7" fill="#55b58f" stroke="#52a080" stroke-width="1"/>
<circle cx="564.72" cy="983.04" r="5.7" fill="#55b58f" stroke="#52a080" stroke-width="1"/>
<circle cx="595.66" cy="1034.02" r="5.7" fill="#55b58f" stroke="#52a080" stroke-width="1"/>
<circle cx="626.6" cy="981.8" r="5.7" fill="#55b58f" stroke="#52a080" stroke-width="1"/>
<circle cx="657.54" cy="983.86" r="5.7" fill="#55b58f" stroke="#52a080" stroke-width="1"/>
<circle cx="688.48" cy="984.89" r="5.7" fill="#55b58f" stroke="#52a080" stroke-width="1"/>
<circle cx="719.42" cy="1008.53" r="5.7" fill="#55b58f" stroke="#52a080" stroke-width="1"/>
<circle cx="750.36" cy="1009.56" r="5.7" fill="#55b58f" stroke="#52a080" stroke-width="1"/>
<circle cx="781.3" cy="984.89" r="5.7" fill="#55b58f" stroke="#52a080" stroke-width="1"/>
<circle cx="812.24" cy="984.89" r="5.7" fill="#55b58f" stroke="#52a080" stroke-width="1"/>
<circle cx="843.18" cy="1035.77" r="5.7" fill="#55b58f" stroke="#52a080" stroke-width="1"/>
<circle cx="874.12" cy="986.53" r="5.7" fill="#55b58f" stroke="#52a080" stroke-width="1"/>
<circle cx="905.06" cy="1033.2" r="5.7" fill="#55b58f" stroke="#52a080" stroke-width="1"/>
<circle cx="936" cy="995.17" r="5.7" fill="#55b58f" stroke="#52a080" stroke-width="1"/>
<circle cx="966.94" cy="1001.85" r="5.7" fill="#55b58f" stroke="#52a080" stroke-width="1"/>
<circle cx="997.88" cy="1025.18" r="5.7" fill="#55b58f" stroke="#52a080" stroke-width="1"/>
<circle cx="1028.82" cy="1119.96" r="5.7" fill="#55b58f" stroke="#52a080" stroke-width="1"/>
<circle cx="1059.76" cy="1108.04" r="5.7" fill="#55b58f" stroke="#52a080" stroke-width="1"/>
<circle cx="1090.7" cy="1150.29" r="5.7" fill="#55b58f" stroke="#52a080" stroke-width="1"/>
<circle cx="1121.64" cy="1117.19" r="5.7" fill="#55b58f" stroke="#52a080" stroke-width="1"/>
<circle cx="1152.58" cy="1152.04" r="5.7" fill="#55b58f" stroke="#52a080" stroke-width="1"/>
<circle cx="1183.52" cy="1112.36" r="5.7" fill="#55b58f" stroke="#52a080" stroke-width="1"/>
<circle cx="1214.46" cy="1115.03" r="5.7" fill="#55b58f" stroke="#52a080" stroke-width="1"/>
<circle cx="1245.4" cy="1131.99" r="5.7" fill="#55b58f" stroke="#52a080" stroke-width="1"/>
<circle cx="1276.34" cy="1116.06" r="5.7" fill="#55b58f" stroke="#52a080" stroke-width="1"/>
<circle cx="1307.28" cy="1114.82" r="5.7" fill="#55b58f" stroke="#52a080" stroke-width="1"/>
<circle cx="1338.22" cy="1115.96" r="5.7" fill="#55b58f" stroke="#52a080" stroke-width="1"/>
<circle cx="1369.16" cy="1152.04" r="5.7" fill="#55b58f" stroke="#52a080" stroke-width="1"/>
<polyline points="317.2,840.45 348.14,854.44 379.08,973.89 410.02,1008.22 440.96,953.43 471.9,944.28 502.84,985.91 533.78,1004.52 564.72,988.59 595.66,1017.37 626.6,1002.36 657.54,999.59 688.48,988.9 719.42,1011.61 750.36,1012.54 781.3,987.25 812.24,987.25 843.18,1017.99 874.12,1028.27 905.06,1057.87 936,1035.26 966.94,1015.73 997.88,1064.97 1028.82,1103.11 1059.76,1058.08 1090.7,1133.12 1121.64,1131.89 1152.58,1104.55 1183.52,1096.01 1214.46,1092 1245.4,1113.18 1276.34,1109.58 1307.28,1093.34 1338.22,1107.83 1369.16,1133.12" fill="none" stroke="#52a080" stroke-width="2.4" stroke-linejoin="round" stroke-linecap="butt"/>
<rect x="311.6" y="834.85" width="11.2" height="11.2" fill="#55b58f" stroke="#52a080" stroke-width="1"/>
<rect x="342.54" y="848.84" width="11.2" height="11.2" fill="#55b58f" stroke="#52a080" stroke-width="1"/>
<rect x="373.48" y="968.29" width="11.2" height="11.2" fill="#55b58f" stroke="#52a080" stroke-width="1"/>
<rect x="404.42" y="1002.62" width="11.2" height="11.2" fill="#55b58f" stroke="#52a080" stroke-width="1"/>
<rect x="435.36" y="947.83" width="11.2" height="11.2" fill="#55b58f" stroke="#52a080" stroke-width="1"/>
<rect x="466.3" y="938.68" width="11.2" height="11.2" fill="#55b58f" stroke="#52a080" stroke-width="1"/>
<rect x="497.24" y="980.31" width="11.2" height="11.2" fill="#55b58f" stroke="#52a080" stroke-width="1"/>
<rect x="528.18" y="998.92" width="11.2" height="11.2" fill="#55b58f" stroke="#52a080" stroke-width="1"/>
<rect x="559.12" y="982.99" width="11.2" height="11.2" fill="#55b58f" stroke="#52a080" stroke-width="1"/>
<rect x="590.06" y="1011.77" width="11.2" height="11.2" fill="#55b58f" stroke="#52a080" stroke-width="1"/>
<rect x="621" y="996.76" width="11.2" height="11.2" fill="#55b58f" stroke="#52a080" stroke-width="1"/>
<rect x="651.94" y="993.99" width="11.2" height="11.2" fill="#55b58f" stroke="#52a080" stroke-width="1"/>
<rect x="682.88" y="983.3" width="11.2" height="11.2" fill="#55b58f" stroke="#52a080" stroke-width="1"/>
<rect x="713.82" y="1006.01" width="11.2" height="11.2" fill="#55b58f" stroke="#52a080" stroke-width="1"/>
<rect x="744.76" y="1006.94" width="11.2" height="11.2" fill="#55b58f" stroke="#52a080" stroke-width="1"/>
<rect x="775.7" y="981.65" width="11.2" height="11.2" fill="#55b58f" stroke="#52a080" stroke-width="1"/>
<rect x="806.64" y="981.65" width="11.2" height="11.2" fill="#55b58f" stroke="#52a080" stroke-width="1"/>
<rect x="837.58" y="1012.39" width="11.2" height="11.2" fill="#55b58f" stroke="#52a080" stroke-width="1"/>
<rect x="868.52" y="1022.67" width="11.2" height="11.2" fill="#55b58f" stroke="#52a080" stroke-width="1"/>
<rect x="899.46" y="1052.27" width="11.2" height="11.2" fill="#55b58f" stroke="#52a080" stroke-width="1"/>
<rect x="930.4" y="1029.66" width="11.2" height="11.2" fill="#55b58f" stroke="#52a080" stroke-width="1"/>
<rect x="961.34" y="1010.13" width="11.2" height="11.2" fill="#55b58f" stroke="#52a080" stroke-width="1"/>
<rect x="992.28" y="1059.37" width="11.2" height="11.2" fill="#55b58f" stroke="#52a080" stroke-width="1"/>
<rect x="1023.22" y="1097.51" width="11.2" height="11.2" fill="#55b58f" stroke="#52a080" stroke-width="1"/>
<rect x="1054.16" y="1052.48" width="11.2" height="11.2" fill="#55b58f" stroke="#52a080" stroke-width="1"/>
<rect x="1085.1" y="1127.52" width="11.2" height="11.2" fill="#55b58f" stroke="#52a080" stroke-width="1"/>
<rect x="1116.04" y="1126.29" width="11.2" height="11.2" fill="#55b58f" stroke="#52a080" stroke-width="1"/>
<rect x="1146.98" y="1098.95" width="11.2" height="11.2" fill="#55b58f" stroke="#52a080" stroke-width="1"/>
<rect x="1177.92" y="1090.41" width="11.2" height="11.2" fill="#55b58f" stroke="#52a080" stroke-width="1"/>
<rect x="1208.86" y="1086.4" width="11.2" height="11.2" fill="#55b58f" stroke="#52a080" stroke-width="1"/>
<rect x="1239.8" y="1107.58" width="11.2" height="11.2" fill="#55b58f" stroke="#52a080" stroke-width="1"/>
<rect x="1270.74" y="1103.98" width="11.2" height="11.2" fill="#55b58f" stroke="#52a080" stroke-width="1"/>
<rect x="1301.68" y="1087.74" width="11.2" height="11.2" fill="#55b58f" stroke="#52a080" stroke-width="1"/>
<rect x="1332.62" y="1102.23" width="11.2" height="11.2" fill="#55b58f" stroke="#52a080" stroke-width="1"/>
<rect x="1363.56" y="1127.52" width="11.2" height="11.2" fill="#55b58f" stroke="#52a080" stroke-width="1"/>
<polyline points="317.2,665 348.14,704.2 379.08,740.8 410.02,763 440.96,838.5 471.9,878.8 502.84,894.4 533.78,913.1 564.72,1126.7 595.66,979.2 626.6,945 657.54,945.8 688.48,947.5 719.42,984.4 750.36,985 781.3,1128.9 812.24,1127.5 843.18,974 874.12,1004 905.06,986.3 936,996.9 966.94,998.8 997.88,1042.5 1028.82,1073.8 1059.76,1088.8 1090.7,1121.9 1121.64,1094.4 1152.58,1104.2 1183.52,1112.3 1214.46,1091.5 1245.4,1102 1276.34,1122.2 1307.28,1123.1 1338.22,1118.6 1369.16,1130" fill="none" stroke="#a6bcd2" stroke-width="2.4" stroke-linejoin="round" stroke-linecap="butt"/>
<polygon points="317.2,657.9 324.3,665 317.2,672.1 310.1,665" fill="#adc8e0" stroke="#a6bcd2" stroke-width="1"/>
<polygon points="348.14,697.1 355.24,704.2 348.14,711.3 341.04,704.2" fill="#adc8e0" stroke="#a6bcd2" stroke-width="1"/>
<polygon points="379.08,733.7 386.18,740.8 379.08,747.9 371.98,740.8" fill="#adc8e0" stroke="#a6bcd2" stroke-width="1"/>
<polygon points="410.02,755.9 417.12,763 410.02,770.1 402.92,763" fill="#adc8e0" stroke="#a6bcd2" stroke-width="1"/>
<polygon points="440.96,831.4 448.06,838.5 440.96,845.6 433.86,838.5" fill="#adc8e0" stroke="#a6bcd2" stroke-width="1"/>
<polygon points="471.9,871.7 479,878.8 471.9,885.9 464.8,878.8" fill="#adc8e0" stroke="#a6bcd2" stroke-width="1"/>
<polygon points="502.84,887.3 509.94,894.4 502.84,901.5 495.74,894.4" fill="#adc8e0" stroke="#a6bcd2" stroke-width="1"/>
<polygon points="533.78,906 540.88,913.1 533.78,920.2 526.68,913.1" fill="#adc8e0" stroke="#a6bcd2" stroke-width="1"/>
<polygon points="564.72,1119.6 571.82,1126.7 564.72,1133.8 557.62,1126.7" fill="#adc8e0" stroke="#a6bcd2" stroke-width="1"/>
<polygon points="595.66,972.1 602.76,979.2 595.66,986.3 588.56,979.2" fill="#adc8e0" stroke="#a6bcd2" stroke-width="1"/>
<polygon points="626.6,937.9 633.7,945 626.6,952.1 619.5,945" fill="#adc8e0" stroke="#a6bcd2" stroke-width="1"/>
<polygon points="657.54,938.7 664.64,945.8 657.54,952.9 650.44,945.8" fill="#adc8e0" stroke="#a6bcd2" stroke-width="1"/>
<polygon points="688.48,940.4 695.58,947.5 688.48,954.6 681.38,947.5" fill="#adc8e0" stroke="#a6bcd2" stroke-width="1"/>
<polygon points="719.42,977.3 726.52,984.4 719.42,991.5 712.32,984.4" fill="#adc8e0" stroke="#a6bcd2" stroke-width="1"/>
<polygon points="750.36,977.9 757.46,985 750.36,992.1 743.26,985" fill="#adc8e0" stroke="#a6bcd2" stroke-width="1"/>
<polygon points="781.3,1121.8 788.4,1128.9 781.3,1136 774.2,1128.9" fill="#adc8e0" stroke="#a6bcd2" stroke-width="1"/>
<polygon points="812.24,1120.4 819.34,1127.5 812.24,1134.6 805.14,1127.5" fill="#adc8e0" stroke="#a6bcd2" stroke-width="1"/>
<polygon points="843.18,966.9 850.28,974 843.18,981.1 836.08,974" fill="#adc8e0" stroke="#a6bcd2" stroke-width="1"/>
<polygon points="874.12,996.9 881.22,1004 874.12,1011.1 867.02,1004" fill="#adc8e0" stroke="#a6bcd2" stroke-width="1"/>
<polygon points="905.06,979.2 912.16,986.3 905.06,993.4 897.96,986.3" fill="#adc8e0" stroke="#a6bcd2" stroke-width="1"/>
<polygon points="936,989.8 943.1,996.9 936,1004 928.9,996.9" fill="#adc8e0" stroke="#a6bcd2" stroke-width="1"/>
<polygon points="966.94,991.7 974.04,998.8 966.94,1005.9 959.84,998.8" fill="#adc8e0" stroke="#a6bcd2" stroke-width="1"/>
<polygon points="997.88,1035.4 1004.98,1042.5 997.88,1049.6 990.78,1042.5" fill="#adc8e0" stroke="#a6bcd2" stroke-width="1"/>
<polygon points="1028.82,1066.7 1035.92,1073.8 1028.82,1080.9 1021.72,1073.8" fill="#adc8e0" stroke="#a6bcd2" stroke-width="1"/>
<polygon points="1059.76,1081.7 1066.86,1088.8 1059.76,1095.9 1052.66,1088.8" fill="#adc8e0" stroke="#a6bcd2" stroke-width="1"/>
<polygon points="1090.7,1114.8 1097.8,1121.9 1090.7,1129 1083.6,1121.9" fill="#adc8e0" stroke="#a6bcd2" stroke-width="1"/>
<polygon points="1121.64,1087.3 1128.74,1094.4 1121.64,1101.5 1114.54,1094.4" fill="#adc8e0" stroke="#a6bcd2" stroke-width="1"/>
<polygon points="1152.58,1097.1 1159.68,1104.2 1152.58,1111.3 1145.48,1104.2" fill="#adc8e0" stroke="#a6bcd2" stroke-width="1"/>
<polygon points="1183.52,1105.2 1190.62,1112.3 1183.52,1119.4 1176.42,1112.3" fill="#adc8e0" stroke="#a6bcd2" stroke-width="1"/>
<polygon points="1214.46,1084.4 1221.56,1091.5 1214.46,1098.6 1207.36,1091.5" fill="#adc8e0" stroke="#a6bcd2" stroke-width="1"/>
<polygon points="1245.4,1094.9 1252.5,1102 1245.4,1109.1 1238.3,1102" fill="#adc8e0" stroke="#a6bcd2" stroke-width="1"/>
<polygon points="1276.34,1115.1 1283.44,1122.2 1276.34,1129.3 1269.24,1122.2" fill="#adc8e0" stroke="#a6bcd2" stroke-width="1"/>
<polygon points="1307.28,1116 1314.38,1123.1 1307.28,1130.2 1300.18,1123.1" fill="#adc8e0" stroke="#a6bcd2" stroke-width="1"/>
<polygon points="1338.22,1111.5 1345.32,1118.6 1338.22,1125.7 1331.12,1118.6" fill="#adc8e0" stroke="#a6bcd2" stroke-width="1"/>
<polygon points="1369.16,1122.9 1376.26,1130 1369.16,1137.1 1362.06,1130" fill="#adc8e0" stroke="#a6bcd2" stroke-width="1"/>
<polyline points="317.2,661.7 348.14,715 379.08,941 410.02,985.8 440.96,851.7 471.9,923.8 502.84,986 533.78,918.8 564.72,978.3 595.66,994.2 626.6,1005 657.54,999.2 688.48,1000 719.42,999.7 750.36,998.3 781.3,974.7 812.24,974 843.18,993.8 874.12,1012 905.06,1073.8 936,1031 966.94,1016 997.88,1128.8 1028.82,1082.5 1059.76,1127.5 1090.7,1107.5 1121.64,1116.3 1152.58,1091.5 1183.52,1077 1214.46,1082.5 1245.4,1095 1276.34,1098.7 1307.28,1093.3 1338.22,1100.5 1369.16,1130" fill="none" stroke="#a6bcd2" stroke-width="2.4" stroke-linejoin="round" stroke-linecap="butt"/>
<polygon points="311.5,667.4 322.9,667.4 317.2,656" fill="#adc8e0" stroke="#a6bcd2" stroke-width="1"/>
<polygon points="342.44,720.7 353.84,720.7 348.14,709.3" fill="#adc8e0" stroke="#a6bcd2" stroke-width="1"/>
<polygon points="373.38,946.7 384.78,946.7 379.08,935.3" fill="#adc8e0" stroke="#a6bcd2" stroke-width="1"/>
<polygon points="404.32,991.5 415.72,991.5 410.02,980.1" fill="#adc8e0" stroke="#a6bcd2" stroke-width="1"/>
<polygon points="435.26,857.4 446.66,857.4 440.96,846" fill="#adc8e0" stroke="#a6bcd2" stroke-width="1"/>
<polygon points="466.2,929.5 477.6,929.5 471.9,918.1" fill="#adc8e0" stroke="#a6bcd2" stroke-width="1"/>
<polygon points="497.14,991.7 508.54,991.7 502.84,980.3" fill="#adc8e0" stroke="#a6bcd2" stroke-width="1"/>
<polygon points="528.08,924.5 539.48,924.5 533.78,913.1" fill="#adc8e0" stroke="#a6bcd2" stroke-width="1"/>
<polygon points="559.02,984 570.42,984 564.72,972.6" fill="#adc8e0" stroke="#a6bcd2" stroke-width="1"/>
<polygon points="589.96,999.9 601.36,999.9 595.66,988.5" fill="#adc8e0" stroke="#a6bcd2" stroke-width="1"/>
<polygon points="620.9,1010.7 632.3,1010.7 626.6,999.3" fill="#adc8e0" stroke="#a6bcd2" stroke-width="1"/>
<polygon points="651.84,1004.9 663.24,1004.9 657.54,993.5" fill="#adc8e0" stroke="#a6bcd2" stroke-width="1"/>
<polygon points="682.78,1005.7 694.18,1005.7 688.48,994.3" fill="#adc8e0" stroke="#a6bcd2" stroke-width="1"/>
<polygon points="713.72,1005.4 725.12,1005.4 719.42,994" fill="#adc8e0" stroke="#a6bcd2" stroke-width="1"/>
<polygon points="744.66,1004 756.06,1004 750.36,992.6" fill="#adc8e0" stroke="#a6bcd2" stroke-width="1"/>
<polygon points="775.6,980.4 787,980.4 781.3,969" fill="#adc8e0" stroke="#a6bcd2" stroke-width="1"/>
<polygon points="806.54,979.7 817.94,979.7 812.24,968.3" fill="#adc8e0" stroke="#a6bcd2" stroke-width="1"/>
<polygon points="837.48,999.5 848.88,999.5 843.18,988.1" fill="#adc8e0" stroke="#a6bcd2" stroke-width="1"/>
<polygon points="868.42,1017.7 879.82,1017.7 874.12,1006.3" fill="#adc8e0" stroke="#a6bcd2" stroke-width="1"/>
<polygon points="899.36,1079.5 910.76,1079.5 905.06,1068.1" fill="#adc8e0" stroke="#a6bcd2" stroke-width="1"/>
<polygon points="930.3,1036.7 941.7,1036.7 936,1025.3" fill="#adc8e0" stroke="#a6bcd2" stroke-width="1"/>
<polygon points="961.24,1021.7 972.64,1021.7 966.94,1010.3" fill="#adc8e0" stroke="#a6bcd2" stroke-width="1"/>
<polygon points="992.18,1134.5 1003.58,1134.5 997.88,1123.1" fill="#adc8e0" stroke="#a6bcd2" stroke-width="1"/>
<polygon points="1023.12,1088.2 1034.52,1088.2 1028.82,1076.8" fill="#adc8e0" stroke="#a6bcd2" stroke-width="1"/>
<polygon points="1054.06,1133.2 1065.46,1133.2 1059.76,1121.8" fill="#adc8e0" stroke="#a6bcd2" stroke-width="1"/>
<polygon points="1085,1113.2 1096.4,1113.2 1090.7,1101.8" fill="#adc8e0" stroke="#a6bcd2" stroke-width="1"/>
<polygon points="1115.94,1122 1127.34,1122 1121.64,1110.6" fill="#adc8e0" stroke="#a6bcd2" stroke-width="1"/>
<polygon points="1146.88,1097.2 1158.28,1097.2 1152.58,1085.8" fill="#adc8e0" stroke="#a6bcd2" stroke-width="1"/>
<polygon points="1177.82,1082.7 1189.22,1082.7 1183.52,1071.3" fill="#adc8e0" stroke="#a6bcd2" stroke-width="1"/>
<polygon points="1208.76,1088.2 1220.16,1088.2 1214.46,1076.8" fill="#adc8e0" stroke="#a6bcd2" stroke-width="1"/>
<polygon points="1239.7,1100.7 1251.1,1100.7 1245.4,1089.3" fill="#adc8e0" stroke="#a6bcd2" stroke-width="1"/>
<polygon points="1270.64,1104.4 1282.04,1104.4 1276.34,1093" fill="#adc8e0" stroke="#a6bcd2" stroke-width="1"/>
<polygon points="1301.58,1099 1312.98,1099 1307.28,1087.6" fill="#adc8e0" stroke="#a6bcd2" stroke-width="1"/>
<polygon points="1332.52,1106.2 1343.92,1106.2 1338.22,1094.8" fill="#adc8e0" stroke="#a6bcd2" stroke-width="1"/>
<polygon points="1363.46,1135.7 1374.86,1135.7 1369.16,1124.3" fill="#adc8e0" stroke="#a6bcd2" stroke-width="1"/>
<polyline points="317.2,665 348.14,687.5 379.08,762 410.02,761 440.96,851.7 471.9,895 502.84,894 533.78,918.8 564.72,1126.7 595.66,920.8 626.6,1019.2 657.54,1016.7 688.48,1020 719.42,1000 750.36,981.7 781.3,1128.9 812.24,1127.5 843.18,973.8 874.12,1020 905.06,1000 936,1010 966.94,1031.3 997.88,1088.8 1028.82,1085 1059.76,1088.8 1090.7,1088.8 1121.64,1125 1152.58,1122.2 1183.52,1110 1214.46,1100 1245.4,1095 1276.34,1100 1307.28,1125 1338.22,1132.1 1369.16,1130" fill="none" stroke="#a6bcd2" stroke-width="2.4" stroke-linejoin="round" stroke-linecap="butt"/>
<polygon points="311.5,659.3 311.5,670.7 322.9,665" fill="#adc8e0" stroke="#a6bcd2" stroke-width="1"/>
<polygon points="342.44,681.8 342.44,693.2 353.84,687.5" fill="#adc8e0" stroke="#a6bcd2" stroke-width="1"/>
<polygon points="373.38,756.3 373.38,767.7 384.78,762" fill="#adc8e0" stroke="#a6bcd2" stroke-width="1"/>
<polygon points="404.32,755.3 404.32,766.7 415.72,761" fill="#adc8e0" stroke="#a6bcd2" stroke-width="1"/>
<polygon points="435.26,846 435.26,857.4 446.66,851.7" fill="#adc8e0" stroke="#a6bcd2" stroke-width="1"/>
<polygon points="466.2,889.3 466.2,900.7 477.6,895" fill="#adc8e0" stroke="#a6bcd2" stroke-width="1"/>
<polygon points="497.14,888.3 497.14,899.7 508.54,894" fill="#adc8e0" stroke="#a6bcd2" stroke-width="1"/>
<polygon points="528.08,913.1 528.08,924.5 539.48,918.8" fill="#adc8e0" stroke="#a6bcd2" stroke-width="1"/>
<polygon points="559.02,1121 559.02,1132.4 570.42,1126.7" fill="#adc8e0" stroke="#a6bcd2" stroke-width="1"/>
<polygon points="589.96,915.1 589.96,926.5 601.36,920.8" fill="#adc8e0" stroke="#a6bcd2" stroke-width="1"/>
<polygon points="620.9,1013.5 620.9,1024.9 632.3,1019.2" fill="#adc8e0" stroke="#a6bcd2" stroke-width="1"/>
<polygon points="651.84,1011 651.84,1022.4 663.24,1016.7" fill="#adc8e0" stroke="#a6bcd2" stroke-width="1"/>
<polygon points="682.78,1014.3 682.78,1025.7 694.18,1020" fill="#adc8e0" stroke="#a6bcd2" stroke-width="1"/>
<polygon points="713.72,994.3 713.72,1005.7 725.12,1000" fill="#adc8e0" stroke="#a6bcd2" stroke-width="1"/>
<polygon points="744.66,976 744.66,987.4 756.06,981.7" fill="#adc8e0" stroke="#a6bcd2" stroke-width="1"/>
<polygon points="775.6,1123.2 775.6,1134.6 787,1128.9" fill="#adc8e0" stroke="#a6bcd2" stroke-width="1"/>
<polygon points="806.54,1121.8 806.54,1133.2 817.94,1127.5" fill="#adc8e0" stroke="#a6bcd2" stroke-width="1"/>
<polygon points="837.48,968.1 837.48,979.5 848.88,973.8" fill="#adc8e0" stroke="#a6bcd2" stroke-width="1"/>
<polygon points="868.42,1014.3 868.42,1025.7 879.82,1020" fill="#adc8e0" stroke="#a6bcd2" stroke-width="1"/>
<polygon points="899.36,994.3 899.36,1005.7 910.76,1000" fill="#adc8e0" stroke="#a6bcd2" stroke-width="1"/>
<polygon points="930.3,1004.3 930.3,1015.7 941.7,1010" fill="#adc8e0" stroke="#a6bcd2" stroke-width="1"/>
<polygon points="961.24,1025.6 961.24,1037 972.64,1031.3" fill="#adc8e0" stroke="#a6bcd2" stroke-width="1"/>
<polygon points="992.18,1083.1 992.18,1094.5 1003.58,1088.8" fill="#adc8e0" stroke="#a6bcd2" stroke-width="1"/>
<polygon points="1023.12,1079.3 1023.12,1090.7 1034.52,1085" fill="#adc8e0" stroke="#a6bcd2" stroke-width="1"/>
<polygon points="1054.06,1083.1 1054.06,1094.5 1065.46,1088.8" fill="#adc8e0" stroke="#a6bcd2" stroke-width="1"/>
<polygon points="1085,1083.1 1085,1094.5 1096.4,1088.8" fill="#adc8e0" stroke="#a6bcd2" stroke-width="1"/>
<polygon points="1115.94,1119.3 1115.94,1130.7 1127.34,1125" fill="#adc8e0" stroke="#a6bcd2" stroke-width="1"/>
<polygon points="1146.88,1116.5 1146.88,1127.9 1158.28,1122.2" fill="#adc8e0" stroke="#a6bcd2" stroke-width="1"/>
<polygon points="1177.82,1104.3 1177.82,1115.7 1189.22,1110" fill="#adc8e0" stroke="#a6bcd2" stroke-width="1"/>
<polygon points="1208.76,1094.3 1208.76,1105.7 1220.16,1100" fill="#adc8e0" stroke="#a6bcd2" stroke-width="1"/>
<polygon points="1239.7,1089.3 1239.7,1100.7 1251.1,1095" fill="#adc8e0" stroke="#a6bcd2" stroke-width="1"/>
<polygon points="1270.64,1094.3 1270.64,1105.7 1282.04,1100" fill="#adc8e0" stroke="#a6bcd2" stroke-width="1"/>
<polygon points="1301.58,1119.3 1301.58,1130.7 1312.98,1125" fill="#adc8e0" stroke="#a6bcd2" stroke-width="1"/>
<polygon points="1332.52,1126.4 1332.52,1137.8 1343.92,1132.1" fill="#adc8e0" stroke="#a6bcd2" stroke-width="1"/>
<polygon points="1363.46,1124.3 1363.46,1135.7 1374.86,1130" fill="#adc8e0" stroke="#a6bcd2" stroke-width="1"/>
</g>
<rect x="264.6" y="634.2" width="1157.5" height="543" fill="none" stroke="#000" stroke-width="1.33"/>
<rect x="993.6" y="642.8" width="420.4" height="125.4" rx="3.5" fill="#fff" stroke="#d9d9d9" stroke-width="1.3"/>
<path d="M999.2 655.1H1034.7" stroke="#52a080" stroke-width="2.4"/>
<circle cx="1017" cy="655.1" r="5.7" fill="#55b58f" stroke="#52a080" stroke-width="1"/>
<text x="1048" y="661.1" class="t" textLength="320.8" lengthAdjust="spacingAndGlyphs">Elasticsearch-8.14.0@lucene-hnsw-ootb</text>
<path d="M999.2 679.4H1034.7" stroke="#52a080" stroke-width="2.4"/>
<rect x="1011.4" y="673.8" width="11.2" height="11.2" fill="#55b58f" stroke="#52a080" stroke-width="1"/>
<text x="1048" y="685.4" class="t" textLength="358.6" lengthAdjust="spacingAndGlyphs">Elasticsearch-8.14.0@lucene-int8_hnsw-ootb</text>
<path d="M999.2 703.7H1034.7" stroke="#a6bcd2" stroke-width="2.4"/>
<polygon points="1017,696.6 1024.1,703.7 1017,710.8 1009.9,703.7" fill="#adc8e0" stroke="#a6bcd2" stroke-width="1"/>
<text x="1048" y="709.7" class="t" textLength="239.4" lengthAdjust="spacingAndGlyphs">OpenSearch-2.14.0@faiss-css</text>
<path d="M999.2 728H1034.7" stroke="#a6bcd2" stroke-width="2.4"/>
<polygon points="1011.3,733.7 1022.7,733.7 1017,722.3" fill="#adc8e0" stroke="#a6bcd2" stroke-width="1"/>
<text x="1048" y="734" class="t" textLength="304.3" lengthAdjust="spacingAndGlyphs">OpenSearch-2.14.0@lucene-hnsw-css</text>
<path d="M999.2 752.3H1034.7" stroke="#a6bcd2" stroke-width="2.4"/>
<polygon points="1011.3,746.6 1011.3,758 1022.7,752.3" fill="#adc8e0" stroke="#a6bcd2" stroke-width="1"/>
<text x="1048" y="758.3" class="t" textLength="307.9" lengthAdjust="spacingAndGlyphs">OpenSearch-2.14.0@faiss-sq_fp16-css</text>
<text transform="translate(315.2 1201) rotate(-30)" text-anchor="end" class="t" textLength="159.66" lengthAdjust="spacingAndGlyphs">exact-knn-match-all</text>
<text transform="translate(346.14 1201) rotate(-30)" text-anchor="end" class="t" textLength="235.97" lengthAdjust="spacingAndGlyphs">exact-knn-acceptedAnswerId</text>
<text transform="translate(377.08 1201) rotate(-30)" text-anchor="end" class="t" textLength="330.58" lengthAdjust="spacingAndGlyphs">knn-search-100-1000-acceptedAnswerId</text>
<text transform="translate(408.02 1201) rotate(-30)" text-anchor="end" class="t" textLength="435.31" lengthAdjust="spacingAndGlyphs">knn-search-100-1000-acceptedAnswerId-force-merge</text>
<text transform="translate(438.96 1201) rotate(-30)" text-anchor="end" class="t" textLength="119" lengthAdjust="spacingAndGlyphs">exact-knn-java</text>
<text transform="translate(469.9 1201) rotate(-30)" text-anchor="end" class="t" textLength="213.6" lengthAdjust="spacingAndGlyphs">knn-search-100-1000-java</text>
<text transform="translate(500.84 1201) rotate(-30)" text-anchor="end" class="t" textLength="318.34" lengthAdjust="spacingAndGlyphs">knn-search-100-1000-java-force-merge</text>
<text transform="translate(531.78 1201) rotate(-30)" text-anchor="end" class="t" textLength="112.88" lengthAdjust="spacingAndGlyphs">exact-knn-css</text>
<text transform="translate(562.72 1201) rotate(-30)" text-anchor="end" class="t" textLength="281.69" lengthAdjust="spacingAndGlyphs">knn-search-10-50-css-force-merge</text>
<text transform="translate(593.66 1201) rotate(-30)" text-anchor="end" class="t" textLength="404.78" lengthAdjust="spacingAndGlyphs">knn-search-10-50-acceptedAnswerId-force-merge</text>
<text transform="translate(624.6 1201) rotate(-30)" text-anchor="end" class="t" textLength="207.48" lengthAdjust="spacingAndGlyphs">knn-search-100-1000-css</text>
<text transform="translate(655.54 1201) rotate(-30)" text-anchor="end" class="t" textLength="187.13" lengthAdjust="spacingAndGlyphs">knn-search-10-100-css</text>
<text transform="translate(686.48 1201) rotate(-30)" text-anchor="end" class="t" textLength="176.96" lengthAdjust="spacingAndGlyphs">knn-search-10-50-css</text>
<text transform="translate(717.42 1201) rotate(-30)" text-anchor="end" class="t" textLength="310.23" lengthAdjust="spacingAndGlyphs">knn-search-10-100-acceptedAnswerId</text>
<text transform="translate(748.36 1201) rotate(-30)" text-anchor="end" class="t" textLength="300.05" lengthAdjust="spacingAndGlyphs">knn-search-10-50-acceptedAnswerId</text>
<text transform="translate(779.3 1201) rotate(-30)" text-anchor="end" class="t" textLength="291.86" lengthAdjust="spacingAndGlyphs">knn-search-10-100-css-force-merge</text>
<text transform="translate(810.24 1201) rotate(-30)" text-anchor="end" class="t" textLength="312.22" lengthAdjust="spacingAndGlyphs">knn-search-100-1000-css-force-merge</text>
<text transform="translate(841.18 1201) rotate(-30)" text-anchor="end" class="t" textLength="414.96" lengthAdjust="spacingAndGlyphs">knn-search-10-100-acceptedAnswerId-force-merge</text>
<text transform="translate(872.12 1201) rotate(-30)" text-anchor="end" class="t" textLength="254.27" lengthAdjust="spacingAndGlyphs">knn-search-100-1000-match-all</text>
<text transform="translate(903.06 1201) rotate(-30)" text-anchor="end" class="t" textLength="223.74" lengthAdjust="spacingAndGlyphs">knn-search-10-50-match-all</text>
<text transform="translate(934 1201) rotate(-30)" text-anchor="end" class="t" textLength="193.25" lengthAdjust="spacingAndGlyphs">knn-search-10-100-java</text>
<text transform="translate(964.94 1201) rotate(-30)" text-anchor="end" class="t" textLength="183.07" lengthAdjust="spacingAndGlyphs">knn-search-10-50-java</text>
<text transform="translate(995.88 1201) rotate(-30)" text-anchor="end" class="t" textLength="233.91" lengthAdjust="spacingAndGlyphs">knn-search-10-100-match-all</text>
<text transform="translate(1026.82 1201) rotate(-30)" text-anchor="end" class="t" textLength="185.1" lengthAdjust="spacingAndGlyphs">exact-knn-concurrency</text>
<text transform="translate(1057.76 1201) rotate(-30)" text-anchor="end" class="t" textLength="259.35" lengthAdjust="spacingAndGlyphs">knn-search-10-100-concurrency</text>
<text transform="translate(1088.7 1201) rotate(-30)" text-anchor="end" class="t" textLength="338.65" lengthAdjust="spacingAndGlyphs">knn-search-10-100-match-all-force-merge</text>
<text transform="translate(1119.64 1201) rotate(-30)" text-anchor="end" class="t" textLength="279.7" lengthAdjust="spacingAndGlyphs">knn-search-100-1000-concurrency</text>
<text transform="translate(1150.58 1201) rotate(-30)" text-anchor="end" class="t" textLength="249.17" lengthAdjust="spacingAndGlyphs">knn-search-10-50-concurrency</text>
<text transform="translate(1181.52 1201) rotate(-30)" text-anchor="end" class="t" textLength="359" lengthAdjust="spacingAndGlyphs">knn-search-100-1000-match-all-force-merge</text>
<text transform="translate(1212.46 1201) rotate(-30)" text-anchor="end" class="t" textLength="297.98" lengthAdjust="spacingAndGlyphs">knn-search-10-100-java-force-merge</text>
<text transform="translate(1243.4 1201) rotate(-30)" text-anchor="end" class="t" textLength="287.81" lengthAdjust="spacingAndGlyphs">knn-search-10-50-java-force-merge</text>
<text transform="translate(1274.34 1201) rotate(-30)" text-anchor="end" class="t" textLength="364.08" lengthAdjust="spacingAndGlyphs">knn-search-10-100-concurrency-force-merge</text>
<text transform="translate(1305.28 1201) rotate(-30)" text-anchor="end" class="t" textLength="384.44" lengthAdjust="spacingAndGlyphs">knn-search-100-1000-concurrency-force-merge</text>
<text transform="translate(1336.22 1201) rotate(-30)" text-anchor="end" class="t" textLength="353.91" lengthAdjust="spacingAndGlyphs">knn-search-10-50-concurrency-force-merge</text>
<text transform="translate(1367.16 1201) rotate(-30)" text-anchor="end" class="t" textLength="328.47" lengthAdjust="spacingAndGlyphs">knn-search-10-50-match-all-force-merge</text>
</svg></body></html>
